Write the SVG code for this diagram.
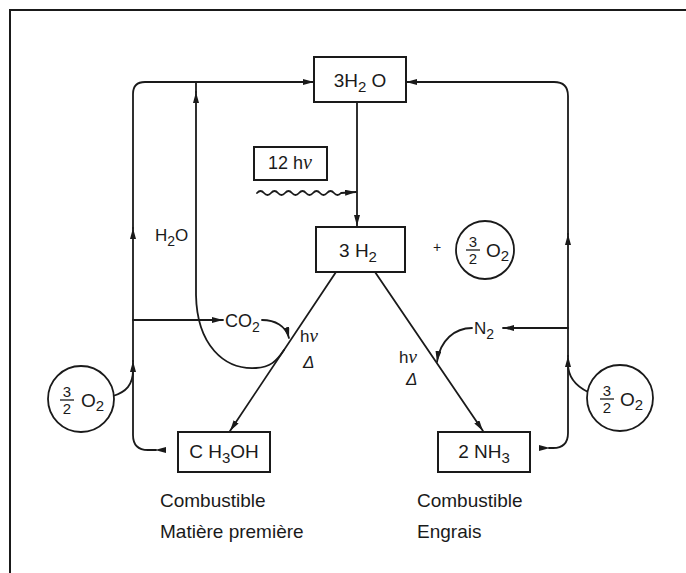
<svg xmlns="http://www.w3.org/2000/svg" width="686" height="573" viewBox="0 0 686 573">
<defs>
<style>
.ln{fill:none;stroke:#1a1a1a;stroke-width:1.8;stroke-linecap:round;stroke-linejoin:round}
.bx{fill:#fff;stroke:#1a1a1a;stroke-width:2}
.ci{fill:#fff;stroke:#1a1a1a;stroke-width:1.8}
.t{font-family:"Liberation Sans",Arial,sans-serif;fill:#1a1a1a}
.nu{font-family:"Liberation Serif","Times New Roman",serif;font-style:italic}
.ah{fill:#1a1a1a}
</style>
<marker id="a" viewBox="0 0 11 6" refX="11" refY="3" markerWidth="11" markerHeight="6" markerUnits="userSpaceOnUse" orient="auto">
<path d="M0,0 L11,3 L0,6 z" fill="#1a1a1a"/>
</marker>
</defs>
<rect width="686" height="573" fill="#fff"/>
<g id="border">
<path d="M10,573 V10 H686" fill="none" stroke="#1a1a1a" stroke-width="2"/>
</g>
<g id="connectors">
<path class="ln" d="M156,450 L148,450 Q133,450 133,435 L133,361" marker-end="url(#a)"/>
<path class="ln" d="M133,361 L133,228" marker-end="url(#a)"/>
<path class="ln" d="M133,228 L133,94 Q133,82 145,82 L314,82" marker-end="url(#a)"/>
<polygon class="ah" points="166,447 166,453 155,450"/>
<path class="ln" d="M113,396 C126,392 133,385 133,370"/>
<path class="ln" d="M133,320 L223,320" marker-end="url(#a)"/>
<path class="ln" d="M262,320 C275,320 286,326 289,338" marker-end="url(#a)"/>
<path class="ln" d="M284,350 C276,362 270,367 256,368 C224,370 197,345 196,295 L196,92" marker-end="url(#a)"/>
<path class="ln" d="M196,92 L196,82"/>
<path class="ln" d="M549,448 L553,448 Q568,448 568,433 L568,356" marker-end="url(#a)"/>
<path class="ln" d="M568,356 L568,234" marker-end="url(#a)"/>
<path class="ln" d="M568,234 L568,96 Q568,82 554,82 L406,82" marker-end="url(#a)"/>
<polygon class="ah" points="539,445 539,451 550,448"/>
<path class="ln" d="M588,392 C576,386 568,378 568,364"/>
<path class="ln" d="M568,328 L503,328" marker-end="url(#a)"/>
<path class="ln" d="M472,328 C455,328 440,340 437,362" marker-end="url(#a)"/>
<path class="ln" d="M357,102 L357,226" marker-end="url(#a)"/>
<path class="ln" d="M257,193 Q260.5,189 264,193 T271,193 T278,193 T285,193 T292,193 T299,193 T306,193 T313,193 T320,193 T327,193 T334,193 T341,193 L356,192" marker-end="url(#a)"/>
<path class="ln" d="M336,272 L230,431" marker-end="url(#a)"/>
<path class="ln" d="M375,272 L483,431" marker-end="url(#a)"/>
</g>
<g id="n-3h2o">
<rect class="bx" x="314" y="57" width="92" height="45"/>
<text class="t" x="360" y="87" font-size="19" text-anchor="middle">3H<tspan font-size="15" dy="5">2</tspan><tspan dy="-5"> O</tspan></text>
</g>
<g id="n-12hv">
<rect class="bx" x="254" y="147" width="73" height="33"/>
<text class="t" x="290" y="169" font-size="18" text-anchor="middle">12 h<tspan class="nu" font-size="20">ν</tspan></text>
</g>
<g id="n-3h2">
<rect class="bx" x="316" y="227" width="89" height="45"/>
<text class="t" x="358" y="257" font-size="19" text-anchor="middle">3 H<tspan font-size="15" dy="5">2</tspan></text>
</g>
<g id="plus">
<text class="t" x="437" y="252" font-size="14" text-anchor="middle">+</text>
</g>
<g id="n-o2-top">
<circle class="ci" cx="485" cy="250" r="29"/>
<text class="t" x="473" y="247" font-size="15" text-anchor="middle">3</text>
<line x1="466" y1="250" x2="480" y2="250" stroke="#1a1a1a" stroke-width="1.3"/>
<text class="t" x="473" y="264" font-size="15" text-anchor="middle">2</text>
<text class="t" x="486" y="257" font-size="19">O<tspan font-size="15" dy="4">2</tspan></text>
</g>
<g id="n-o2-left">
<circle class="ci" cx="81" cy="399" r="33"/>
<text class="t" x="67" y="397" font-size="15" text-anchor="middle">3</text>
<line x1="60" y1="400" x2="74" y2="400" stroke="#1a1a1a" stroke-width="1.3"/>
<text class="t" x="67" y="414" font-size="15" text-anchor="middle">2</text>
<text class="t" x="81" y="407" font-size="19">O<tspan font-size="15" dy="4">2</tspan></text>
</g>
<g id="n-o2-right">
<circle class="ci" cx="620" cy="398" r="33"/>
<text class="t" x="607" y="396" font-size="15" text-anchor="middle">3</text>
<line x1="600" y1="399" x2="614" y2="399" stroke="#1a1a1a" stroke-width="1.3"/>
<text class="t" x="607" y="413" font-size="15" text-anchor="middle">2</text>
<text class="t" x="620" y="406" font-size="19">O<tspan font-size="15" dy="4">2</tspan></text>
</g>
<g id="n-ch3oh">
<rect class="bx" x="178" y="432" width="92" height="40"/>
<text class="t" x="224" y="458" font-size="19" text-anchor="middle">C H<tspan font-size="15" dy="5">3</tspan><tspan dy="-5">OH</tspan></text>
</g>
<g id="n-2nh3">
<rect class="bx" x="438" y="432" width="92" height="40"/>
<text class="t" x="484" y="458" font-size="19" text-anchor="middle">2 NH<tspan font-size="15" dy="5">3</tspan></text>
</g>
<g id="labels">
<text class="t" x="155" y="241" font-size="17">H<tspan font-size="14" dy="5">2</tspan><tspan dy="-5">O</tspan></text>
<text class="t" x="225" y="327" font-size="18">CO<tspan font-size="14" dy="5">2</tspan></text>
<text class="t" x="474" y="334" font-size="17">N<tspan font-size="14" dy="5">2</tspan></text>
<text class="t" x="300" y="342" font-size="17">h<tspan class="nu" font-size="19">ν</tspan></text>
<text class="t" x="303" y="368" font-size="17" font-style="italic">Δ</text>
<text class="t" x="399" y="363" font-size="17">h<tspan class="nu" font-size="19">ν</tspan></text>
<text class="t" x="406" y="385" font-size="17" font-style="italic">Δ</text>
<text class="t" x="160" y="507" font-size="19">Combustible</text>
<text class="t" x="160" y="538" font-size="19">Matière première</text>
<text class="t" x="417" y="507" font-size="19">Combustible</text>
<text class="t" x="417" y="538" font-size="19">Engrais</text>
</g>
</svg>
